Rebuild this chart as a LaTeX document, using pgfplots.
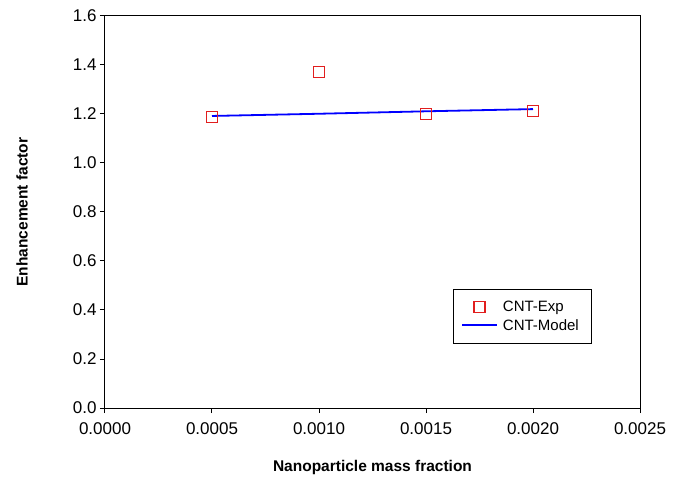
\documentclass[border=0pt]{standalone}
\usepackage{pgfplots}
\pgfplotsset{compat=1.18}
\usepackage{fontspec}
\setmainfont{Liberation Sans}
\definecolor{expred}{RGB}{225,30,30}
\pgfplotsset{
  expleg/.style={legend image code/.code={\draw[##1] plot coordinates {(17.5bp,0bp)};}},
  modleg/.style={legend image code/.code={\draw[##1] (0bp,0bp) -- (35bp,0bp);}},
}
\begin{document}
\begin{tikzpicture}
\begin{axis}[
  at={(0,0)}, anchor=origin,
  scale only axis, width=535bp, height=392bp,
  xmin=0, xmax=0.0025, ymin=0, ymax=1.6,
  xtick={0,0.0005,0.001,0.0015,0.002,0.0025},
  ytick={0,0.2,0.4,0.6,0.8,1.0,1.2,1.4,1.6},
  scaled x ticks=false,
  xticklabel style={/pgf/number format/.cd, fixed, fixed zerofill, precision=4, /tikz/.cd, yshift=-6bp},
  yticklabel style={/pgf/number format/.cd, fixed, fixed zerofill, precision=1},
  /pgf/number format/assume math mode=true,
  ticklabel style={font=\fontsize{17bp}{19bp}\selectfont},
  tick align=outside, tick pos=left,
  major tick length=5bp,
  axis line style={line width=1bp, black},
  tick style={line width=1bp, black},
  xlabel={Nanoparticle mass fraction},
  ylabel={Enhancement factor},
  label style={font=\fontsize{15.5bp}{18bp}\selectfont\bfseries},
  xlabel style={at={(axis description cs:0.5,-0.1505)}, anchor=center},
  ylabel style={at={(axis description cs:-0.155,0.5)}, anchor=center, rotate=0},
  legend style={at={(0.650,0.304)}, anchor=north west, draw=black, line width=0.8bp,
    font=\fontsize{15bp}{17bp}\selectfont, inner xsep=8bp, inner ysep=10bp,
    row sep=2bp, cells={anchor=west}, nodes={inner xsep=5bp}},
  legend cell align=left,
]
\addplot[blue, line width=1.8bp, mark=none, modleg, forget plot]
  coordinates {(0.0005,1.192) (0.0010,1.201) (0.0015,1.211) (0.0020,1.220)};
\addplot[only marks, color=expred, mark=square, mark size=5.5bp,
  mark options={line width=1.1bp, fill=none, draw=expred}, expleg]
  coordinates {(0.0005,1.189) (0.0010,1.371) (0.0015,1.200) (0.0020,1.213)};
\addlegendentry{CNT-Exp}
\addlegendimage{blue, line width=1.8bp, modleg}
\addlegendentry{CNT-Model}
\end{axis}
\useasboundingbox (-105bp,-72bp) rectangle (577bp,408bp);
\end{tikzpicture}
\end{document}
